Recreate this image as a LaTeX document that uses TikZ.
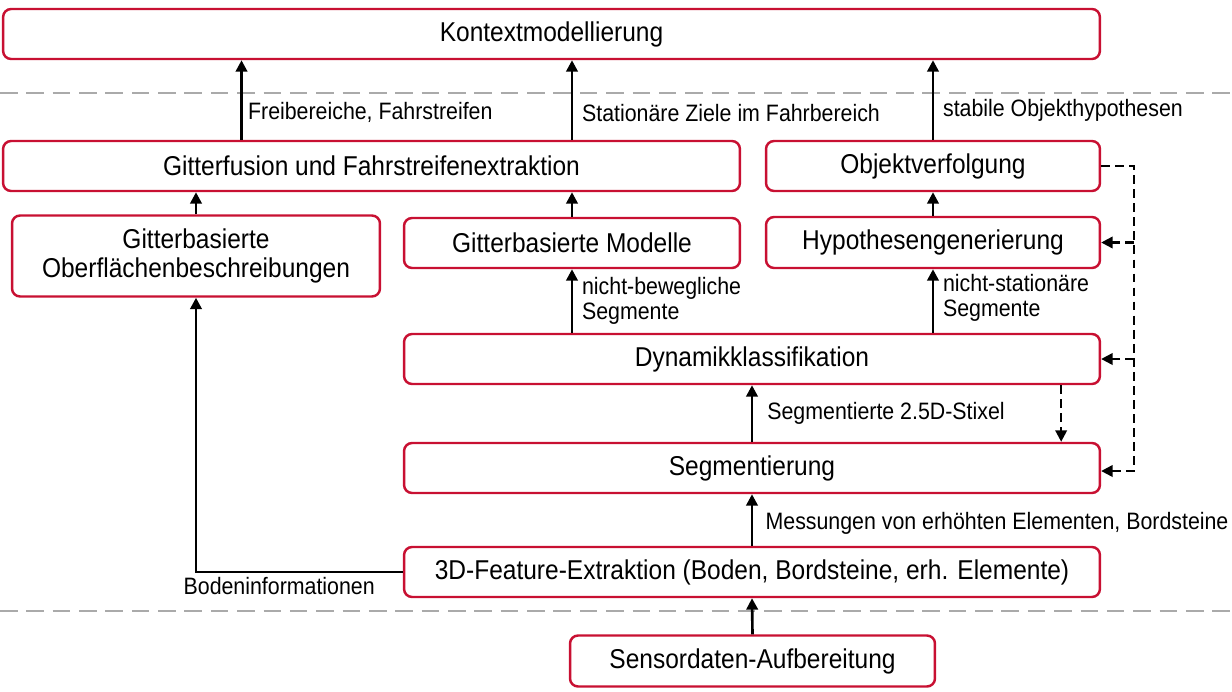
\documentclass[tikz,border=0pt]{standalone}
\usepackage{fontspec}
\setmainfont{Liberation Sans}[FakeStretch=0.9]
\usepackage{tikz}
\usetikzlibrary{arrows.meta}

\definecolor{boxred}{RGB}{200,16,50}
\definecolor{sepgray}{RGB}{170,170,170}

\tikzset{
  box/.style={draw=boxred, line width=1.4pt, rounded corners=0.16cm, fill=white,
    align=center, minimum height=1.0cm, inner sep=2pt,
    font=\fontsize{15.5}{17}\selectfont},
  arr/.style={line width=1.5pt, -{Triangle[length=6.5pt,width=6.5pt]}},
  dasharr/.style={line width=1.3pt, dash pattern=on 5pt off 3pt, -{Triangle[length=6.5pt,width=6.5pt]}},
  lbl/.style={align=left, inner sep=3pt, font=\fontsize{13.5}{14.5}\selectfont},
  sep/.style={sepgray, line width=1.3pt, dash pattern=on 10pt off 5pt}
}

\begin{document}
\begin{tikzpicture}[x=0.02cm, y=-0.02cm]
		\useasboundingbox (0,0) rectangle (1232,691);
		% separators
		\draw[sep] (0,93) -- (1232,93);
		\draw[sep] (0,611) -- (1232,611);
		% boxes
		\node[box, minimum width=21.94cm] (kontext) at (551.5,34) {Kontextmodellierung};
		\node[box, minimum width=14.74cm] (gitter) at (371.5,166) {Gitterfusion und Fahrstreifenextraktion};
		\node[box, minimum width=6.68cm] (objekt) at (933,166) {Objektverfolgung};
		\node[box, minimum width=7.36cm, minimum height=1.62cm] (oflaeche) at (196,256) {Gitterbasierte\\Oberflächenbeschreibungen};
		\node[box, minimum width=6.72cm] (modelle) at (572,243) {Gitterbasierte Modelle};
		\node[box, minimum width=6.68cm, minimum height=1.02cm] (hypo) at (933,242.5) {Hypothesengenerierung};
		\node[box, minimum width=13.92cm] (dynamik) at (752,359) {Dynamikklassifikation};
		\node[box, minimum width=13.92cm] (segment) at (752,468) {Segmentierung};
		\node[box, minimum width=13.92cm] (feature) at (752,572) {3D-Feature-Extraktion (Boden, Bordsteine, erh. Elemente)};
		\node[box, minimum width=7.3cm, minimum height=1.02cm] (sensor) at (752.5,661) {Sensordaten-Aufbereitung};
		% upward arrows
		\draw[arr] ([xshift=-2.6cm]gitter.north) -- ([xshift=-2.6cm]gitter.north |- kontext.south)
			node[lbl, right, pos=0.34] {Freibereiche, Fahrstreifen};
		\draw[arr] (gitter.north -| modelle) -- (kontext.south -| modelle)
			node[lbl, right, pos=0.34, xshift=2pt] {Stationäre Ziele im Fahrbereich};
		\draw[arr] (objekt.north) -- (objekt.north |- kontext.south)
			node[lbl, right, pos=0.37, xshift=2pt] {stabile Objekthypothesen};
		\draw[arr] (oflaeche.north) -- (oflaeche.north |- gitter.south);
		\draw[arr] (modelle.north) -- (modelle.north |- gitter.south);
		\draw[arr] (hypo.north) -- (hypo.north |- objekt.south);
		\draw[arr] (dynamik.north -| modelle) -- (modelle.south)
			node[lbl, right, pos=0.5, xshift=2pt] {nicht-bewegliche\\Segmente};
		\draw[arr] (dynamik.north -| hypo) -- (hypo.south)
			node[lbl, right, pos=0.55, xshift=2pt] {nicht-stationäre\\Segmente};
		\draw[arr] (segment.north) -- (dynamik.south)
			node[lbl, right, pos=0.5, xshift=5pt] {Segmentierte 2.5D-Stixel};
		\draw[arr] (feature.north) -- (segment.south)
			node[lbl, right, pos=0.44, xshift=4pt] {Messungen von erhöhten Elementen, Bordsteine};
		\draw[arr] (sensor.north) -- (feature.south);
		\draw[arr] (feature.west) -- (feature.west -| oflaeche) -- (oflaeche.south);
		\node[lbl, below left, xshift=-0.45cm] (boden) at (feature.west) {Bodeninformationen};
		% feedback (dashed)
		\draw[dasharr] ([xshift=-0.8cm]dynamik.south east) -- ([xshift=-0.8cm]dynamik.south east |- segment.north);
		\draw[dasharr] (objekt.east) -- ++(33,0) coordinate (fb) |- ([yshift=-0.06cm]segment.east);
		\draw[dasharr] (fb |- hypo.east) -- (hypo.east);
		\draw[dasharr] (fb |- dynamik.east) -- (dynamik.east);
	\end{tikzpicture}
\end{document}
